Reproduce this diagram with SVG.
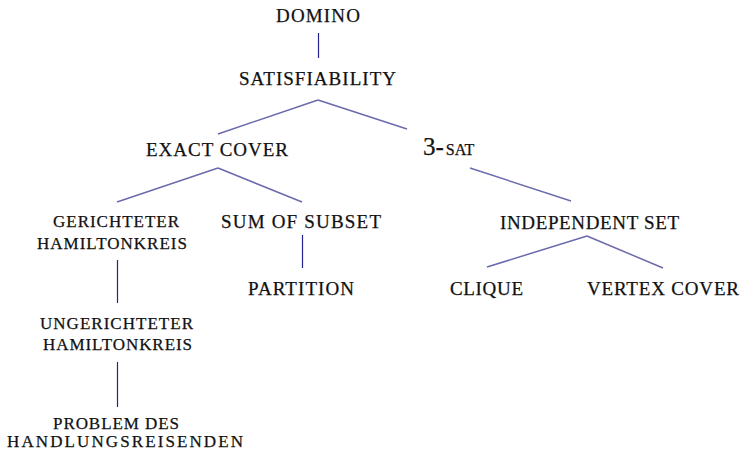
<svg xmlns="http://www.w3.org/2000/svg" width="743" height="450" viewBox="0 0 743 450">
<style>
text{font-family:'Liberation Serif','Times New Roman',serif;fill:#111;stroke:#111;stroke-width:0.25}
.a{font-size:19px}
.b{font-size:17px}
.v{stroke:#23238f;stroke-width:1.2;fill:none}
.d{stroke:#6a6aad;stroke-width:1.5;fill:none}
</style>
<rect width="743" height="450" fill="#fff"/>
<g id="connectors">
<line class="v" x1="318.5" y1="33" x2="318.5" y2="58"/>
<line class="d" x1="318" y1="100" x2="218" y2="134"/>
<line class="d" x1="318" y1="100" x2="407" y2="129"/>
<line class="d" x1="218" y1="168" x2="117" y2="202"/>
<line class="d" x1="218" y1="168" x2="302" y2="202"/>
<line class="d" x1="470" y1="168" x2="571" y2="201"/>
<line class="d" x1="587" y1="236" x2="487" y2="267"/>
<line class="d" x1="587" y1="236" x2="663" y2="268"/>
<line class="v" x1="117.5" y1="260" x2="117.5" y2="303"/>
<line class="v" x1="302.5" y1="235" x2="302.5" y2="268"/>
<line class="v" x1="117.5" y1="362" x2="117.5" y2="407"/>
</g>
<g id="domino"><text class="a" x="276" y="22" textLength="84" lengthAdjust="spacing">DOMINO</text></g>
<g id="satisfiability"><text class="a" x="239" y="85" textLength="157" lengthAdjust="spacing">SATISFIABILITY</text></g>
<g id="exact-cover"><text class="a" x="146" y="156" textLength="142" lengthAdjust="spacing">EXACT COVER</text></g>
<g id="three-sat"><text x="423" y="155" style="font-size:25px">3-<tspan style="font-size:16px" dx="2">SAT</tspan></text></g>
<g id="gerichteter"><text class="b" x="53" y="227" textLength="126" lengthAdjust="spacing">GERICHTETER</text><text class="b" x="37" y="249" textLength="150" lengthAdjust="spacing">HAMILTONKREIS</text></g>
<g id="sum-of-subset"><text class="a" x="221" y="228" textLength="160" lengthAdjust="spacing">SUM OF SUBSET</text></g>
<g id="partition"><text class="a" x="248" y="295" textLength="106" lengthAdjust="spacing">PARTITION</text></g>
<g id="independent-set"><text class="a" x="500" y="229" textLength="179" lengthAdjust="spacing">INDEPENDENT SET</text></g>
<g id="clique"><text class="a" x="450" y="295" textLength="73" lengthAdjust="spacing">CLIQUE</text></g>
<g id="vertex-cover"><text class="a" x="587" y="295" textLength="152" lengthAdjust="spacing">VERTEX COVER</text></g>
<g id="ungerichteter"><text class="b" x="40" y="329" textLength="153" lengthAdjust="spacing">UNGERICHTETER</text><text class="b" x="43" y="350" textLength="149" lengthAdjust="spacing">HAMILTONKREIS</text></g>
<g id="tsp"><text class="b" x="53" y="429" textLength="126" lengthAdjust="spacing">PROBLEM DES</text><text class="b" x="7" y="447" textLength="236" lengthAdjust="spacing">HANDLUNGSREISENDEN</text></g>
</svg>
